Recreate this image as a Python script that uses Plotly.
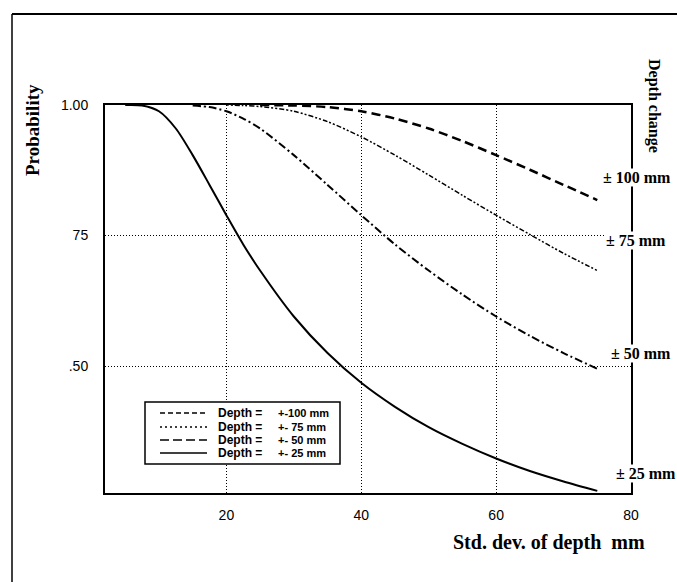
import plotly.graph_objects as go

# ---------------- data ----------------
std_dev = [5, 7.5, 10, 12.5, 15, 17.5, 20, 22.5, 25, 30, 35, 40, 45, 50, 55, 60, 65, 70, 75]

p_25 = [1.000, 0.999, 0.988, 0.955, 0.904, 0.847, 0.789, 0.733, 0.683, 0.595, 0.525,
        0.468, 0.422, 0.383, 0.351, 0.323, 0.299, 0.279, 0.261]
x_50 = [15, 17.5, 20, 22.5, 25, 30, 35, 40, 45, 50, 55, 60, 65, 70, 75]
p_50 = [0.999, 0.996, 0.988, 0.974, 0.955, 0.904, 0.847, 0.789, 0.733, 0.683, 0.637,
        0.595, 0.558, 0.525, 0.495]
x_75 = [20, 22.5, 25, 30, 35, 40, 45, 50, 55, 60, 65, 70, 75]
p_75 = [1.000, 0.999, 0.997, 0.988, 0.968, 0.939, 0.904, 0.866, 0.827, 0.789, 0.752,
        0.716, 0.683]
x_100 = [25, 30, 35, 40, 45, 50, 55, 60, 65, 70, 75]
p_100 = [1.000, 0.999, 0.996, 0.988, 0.974, 0.955, 0.931, 0.904, 0.876, 0.847, 0.818]

series_names = ["+-100 mm", "+- 75 mm", "+- 50 mm", "+- 25 mm"]
right_labels = ["\u00b1 100 mm", "\u00b1 75 mm", "\u00b1 50 mm", "\u00b1 25 mm"]
y_tickvals = [1.0, 0.75, 0.5]
y_ticktext = ["1.00", "75", ".50"]
x_tickvals = [20, 40, 60, 80]

# ---------------- geometry helpers (layout only) ----------------
L, R, T, B = 105, 631, 105, 493
W, H = 677, 582


def px_x(X):
    return (X - L) / (R - L)


def px_y(Y):
    return (B - Y) / (B - T)


styles = [
    dict(dash="9px,5px", width=2.5),
    dict(dash="2px,2px,2px,2px,5px,2px", width=1.5),
    dict(dash="8px,3px,2px,3px", width=2),
    dict(dash="solid", width=2),
]
legend_dash = ["5px,3px", "2px,3px,2px,3px", "9px,4px", "solid"]

xs = [x_100, x_75, x_50, std_dev]
ys = [p_100, p_75, p_50, p_25]

fig = go.Figure()
for x, y, nm, st in zip(xs, ys, series_names, styles):
    fig.add_trace(go.Scatter(x=x, y=y, mode="lines", name="Depth = " + nm,
                             line=dict(color="black", width=st["width"], dash=st["dash"],
                                       shape="spline", smoothing=0.8),
                             showlegend=False))

serif = "Liberation Serif, Times New Roman, serif"
sans = "Liberation Sans, Arial, sans-serif"

fig.update_layout(
    width=W, height=H,
    margin=dict(l=L, r=W - R, t=T, b=H - B),
    paper_bgcolor="white", plot_bgcolor="white",
    showlegend=False,
    xaxis=dict(range=[2, 80], tickvals=x_tickvals, showgrid=True,
               gridcolor="black", gridwidth=1, griddash="1px,2px",
               showline=True, linecolor="black", linewidth=2, mirror=True,
               zeroline=False, ticks="", ticklabelstandoff=8,
               tickfont=dict(family=sans, size=14, color="black")),
    yaxis=dict(range=[0.257, 1.0], tickvals=y_tickvals, ticktext=y_ticktext,
               showgrid=True, gridcolor="black", gridwidth=1, griddash="1px,2px",
               showline=True, linecolor="black", linewidth=2, mirror=True,
               zeroline=False, ticks="", ticklabelstandoff=12,
               tickfont=dict(family=sans, size=14, color="black")),
)

shapes = []
annotations = []

# outer frame of the figure
shapes.append(dict(type="line", xref="paper", yref="paper",
                   x0=px_x(12), x1=px_x(12), y0=px_y(14), y1=px_y(600),
                   line=dict(color="black", width=1.5)))
shapes.append(dict(type="line", xref="paper", yref="paper",
                   x0=px_x(12), x1=px_x(690), y0=px_y(14), y1=px_y(14),
                   line=dict(color="black", width=2)))

# legend box
shapes.append(dict(type="rect", xref="paper", yref="paper",
                   x0=px_x(145), x1=px_x(340), y0=px_y(464), y1=px_y(402),
                   line=dict(color="black", width=1.5), fillcolor="white", layer="above"))
row_y = [413, 427, 440, 453]
for ry, nm, st, ld in zip(row_y, series_names, styles, legend_dash):
    shapes.append(dict(type="line", xref="paper", yref="paper",
                       x0=px_x(160), x1=px_x(207), y0=px_y(ry), y1=px_y(ry),
                       line=dict(color="black", width=1.5, dash=ld), layer="above"))
    annotations.append(dict(xref="paper", yref="paper", x=px_x(216), y=px_y(ry),
                            xanchor="left", yanchor="middle", showarrow=False,
                            text="<b>Depth =</b>",
                            font=dict(family=sans, size=12, color="black")))
    annotations.append(dict(xref="paper", yref="paper", x=px_x(276), y=px_y(ry),
                            xanchor="left", yanchor="middle", showarrow=False,
                            text="<b>" + nm.replace(" ", "\u00a0") + "</b>",
                            font=dict(family=sans, size=11, color="black")))

# right-side depth labels
lab_pos = [(602, 177), (605, 240), (610, 353), (615, 473)]
for (lx, ly), txt in zip(lab_pos, right_labels):
    annotations.append(dict(xref="paper", yref="paper", x=px_x(lx), y=px_y(ly),
                            xanchor="left", yanchor="middle", showarrow=False,
                            text="<b>" + txt + "</b>", bgcolor="white", borderpad=0,
                            font=dict(family=serif, size=16, color="black")))

# axis titles
annotations.append(dict(xref="paper", yref="paper", x=px_x(32), y=px_y(130),
                        xanchor="center", yanchor="middle", showarrow=False,
                        textangle=-90, text="<b>Probability</b>",
                        font=dict(family=serif, size=19, color="black")))
annotations.append(dict(xref="paper", yref="paper", x=px_x(654), y=px_y(106),
                        xanchor="center", yanchor="middle", showarrow=False,
                        textangle=90, text="<b>Depth change</b>",
                        font=dict(family=serif, size=16, color="black")))
annotations.append(dict(xref="paper", yref="paper", x=px_x(549), y=px_y(542),
                        xanchor="center", yanchor="middle", showarrow=False,
                        text="<b>Std. dev. of depth\u00a0\u00a0mm</b>",
                        font=dict(family=serif, size=20, color="black")))

fig.update_layout(shapes=shapes, annotations=annotations)
fig.write_html("out.html")
